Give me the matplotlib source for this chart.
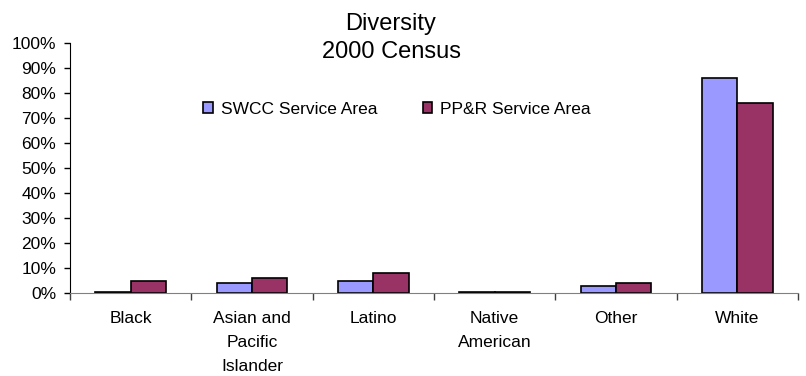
import matplotlib.pyplot as plt
import numpy as np
from matplotlib.ticker import PercentFormatter

plt.rcParams['font.family'] = ['Liberation Sans', 'DejaVu Sans']

# data (percent of population)
categories = ["Black", "Asian and\nPacific\nIslander", "Latino", "Native\nAmerican", "Other", "White"]
swcc = [0.6, 4.0, 4.7, 0.6, 2.7, 86.0]
ppr = [4.7, 6.0, 8.0, 0.5, 4.0, 76.0]
series_names = ["SWCC Service Area", "PP&R Service Area"]
yticks = np.arange(0, 101, 10)

fig = plt.figure(figsize=(8.06, 3.76), dpi=100)
ax = fig.add_axes([70/806, 1 - 293/376, 728/806, 250/376])

x = np.arange(len(categories))
w = 0.29
ax.bar(x - w/2, swcc, w, color="#9999FF", edgecolor="black", linewidth=1.2, label=series_names[0])
ax.bar(x + w/2, ppr, w, color="#993366", edgecolor="black", linewidth=1.2, label=series_names[1])

ax.set_xlim(-0.5, len(categories) - 0.5)
ax.set_ylim(0, 100)
ax.set_yticks(yticks)
ax.yaxis.set_major_formatter(PercentFormatter(decimals=0))
ax.tick_params(axis='y', length=4, width=1, pad=6, labelsize=12.5, color='black')

# category boundaries as ticks, labels centred between them
ax.set_xticks(np.arange(-0.5, len(categories), 1))
ax.set_xticklabels([])
ax.tick_params(axis='x', which='major', length=5, width=1, color='#404040')
ax.set_xticks(x, minor=True)
ax.set_xticklabels(categories, minor=True, fontsize=12.5, linespacing=1.75, va='top')
ax.tick_params(axis='x', which='minor', length=0, pad=13)

for s in ['top', 'right']:
    ax.spines[s].set_visible(False)
ax.spines['left'].set_color('black')
ax.spines['bottom'].set_color('#808080')

fig.text(391/806, 1 - 38/376, "Diversity\n2000 Census", ha='center', va='center',
         fontsize=17, linespacing=1.35)

ax.legend(loc='center left', bbox_to_anchor=((203-70)/728, (293-109)/250), ncol=2, frameon=False,
          fontsize=12.5, handlelength=0.57, handleheight=0.57, handletextpad=0.46,
          columnspacing=2.6, borderpad=0, borderaxespad=0)

fig.savefig("out.png", dpi=100)
